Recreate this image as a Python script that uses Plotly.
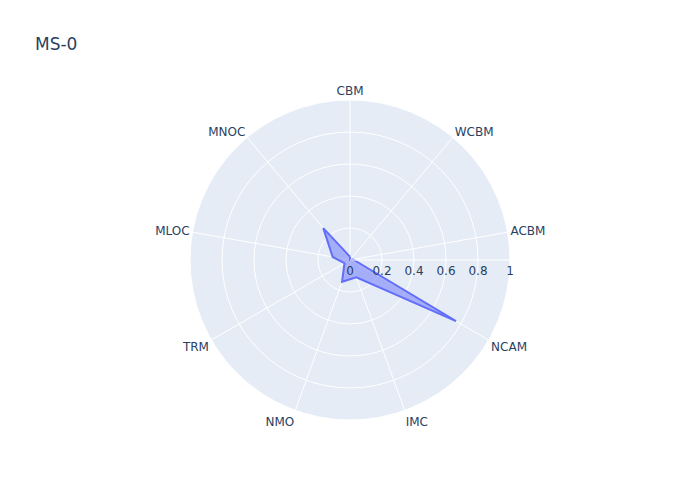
import plotly.graph_objects as go

categories = ["CBM", "WCBM", "ACBM", "NCAM", "IMC", "NMO", "TRM", "MLOC", "MNOC"]
values = [0.02, 0.0, 0.02, 0.765, 0.115, 0.145, 0.04, 0.11, 0.26]

fig = go.Figure()
fig.add_trace(go.Scatterpolar(
    r=values + values[:1],
    theta=categories + categories[:1],
    fill="toself",
    mode="lines",
    name="MS-0",
))
fig.update_layout(
    title=dict(text="MS-0"),
    font=dict(family="DejaVu Sans, Verdana, sans-serif"),
    width=700, height=500,
    polar=dict(
        radialaxis=dict(visible=True, range=[0, 1]),
        angularaxis=dict(rotation=90, direction="clockwise"),
    ),
    showlegend=False,
)
fig.write_html("out.html")
